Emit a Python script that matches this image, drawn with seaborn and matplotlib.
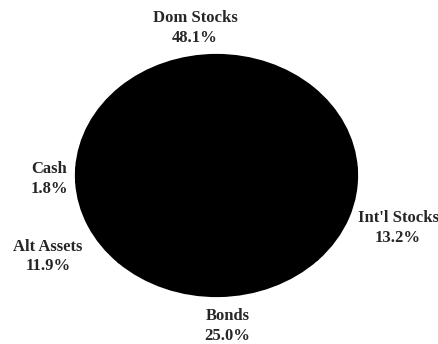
import matplotlib
matplotlib.use("Agg")
import matplotlib.pyplot as plt
import seaborn as sns

# Asset allocation shares (percent)
categories = ["Dom Stocks", "Cash", "Alt Assets", "Bonds", "Int'l Stocks"]
shares = [48.1, 1.8, 11.9, 25.0, 13.2]

# Label anchor points in axes data units (pie radius = 1)
label_x = [-0.153, -1.189, -1.199, 0.078, 1.292]
label_y = [1.224, -0.029, -0.672, -1.249, -0.436]

sns.set_theme(style="white")
plt.rcParams["font.family"] = ["Liberation Serif", "DejaVu Serif"]

fig = plt.figure(figsize=(4.38, 3.44), dpi=100)
ax = fig.add_axes([76 / 438, 48 / 344, 281 / 438, 241 / 344])

# Dom Stocks slice centred at the top, slices running counter-clockwise
start = 90 - shares[0] * 3.6 / 2
ax.pie(shares, startangle=start, counterclock=True,
       colors=["black"] * len(shares),
       wedgeprops=dict(edgecolor="black", linewidth=1.6))
ax.set_aspect("auto")
ax.set_xlim(-1, 1)
ax.set_ylim(-1, 1)
ax.axis("off")

for name, val, x, y in zip(categories, shares, label_x, label_y):
    ax.text(x, y, f"{name}\n{val:.1f}%", ha="center", va="center",
            fontsize=12, fontweight="bold", linespacing=1.3,
            clip_on=False)

fig.savefig("out.png", dpi=100, facecolor="white")
